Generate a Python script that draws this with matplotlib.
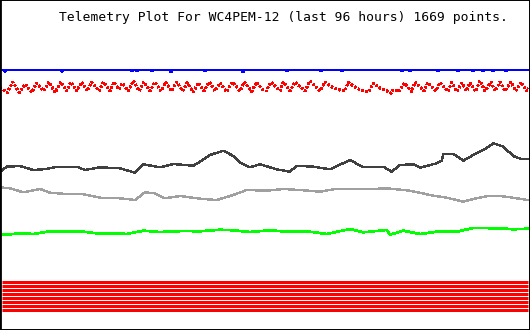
import numpy as np
import matplotlib
matplotlib.use('Agg')
import matplotlib.pyplot as plt

# Telemetry traces (x = sample column, y = screen row)
title = "Telemetry Plot For WC4PEM-12 (last 96 hours) 1669 points."

blue_x = [0, 4, 5, 6, 61, 62, 63, 131, 132, 133, 136, 137, 138, 151, 152, 153, 170, 171, 172,
          204, 205, 206, 242, 243, 244, 286, 287, 288, 320, 321, 322, 341, 342, 343, 401, 402, 403,
          409, 410, 411, 437, 438, 439, 457, 458, 459, 472, 473, 474, 482, 483, 484, 492, 493, 494,
          505, 506, 507, 528]
blue_y = [70, 70, 71.5, 70, 70, 71.5, 70, 70, 71, 70, 70, 71, 70, 70, 71, 70, 70, 72, 70,
          70, 71, 70, 70, 72, 70, 70, 71, 70, 70, 71, 70, 70, 71, 70, 70, 71, 70,
          70, 71, 70, 70, 71, 70, 70, 71, 70, 70, 71, 70, 70, 71, 70, 70, 71, 70,
          70, 71, 70, 70]

red_x = [0, 7.3, 12.7, 19.3, 25, 31.7, 36.7, 43.3, 49, 55, 61, 66.7, 71, 76.7, 81.7, 87.3, 91.7,
         99, 103.3, 110, 114, 119, 122.3, 128.3, 133.3, 139.3, 144, 150, 155, 161, 165.7, 171.7,
         176.7, 182.7, 187.3, 193.3, 198.3, 204, 209.3, 215, 220, 226.7, 232.3, 240, 244.3, 251.7,
         256.7, 263.3, 266, 271, 280, 283.3, 290, 295, 305, 310, 320, 325, 330, 335, 340, 345,
         348.3, 355, 360, 365, 368.3, 373.3, 380, 386, 391, 393, 396, 398, 405, 411.7, 415, 424.3,
         427.7, 435.7, 440, 447.7, 451.7, 456.7, 462, 466.7, 470, 475.7, 480, 485, 491, 495, 500,
         505, 511, 515.7, 521, 526.7, 528]
red_y = [87.7, 92.5, 82, 92.5, 84, 92.5, 83, 91, 82, 92.5, 82, 91, 82, 91, 82, 91, 82,
         91, 82, 91, 82, 89.3, 83.3, 91, 80.7, 91, 82, 91, 82, 91, 82, 91,
         82, 91, 82.7, 92, 82.7, 91, 82, 91, 82.7, 91.7, 82, 91, 82, 91.7,
         82, 91, 91, 82, 91, 82, 91, 82, 91, 81, 91, 82, 86, 88.5, 90, 91,
         82, 87, 89.7, 91, 92, 83.3, 88, 90.5, 93.3, 90, 90, 92, 83, 92, 82, 91,
         82.5, 91, 82.5, 91.5, 82.5, 91.5, 83, 91, 82.5, 91.5, 80.7, 91, 82, 91, 82,
         91, 82, 91, 82, 91, 88]

dark_x = [0, 6.7, 20, 33.3, 46.7, 56.7, 76.7, 85, 100, 120, 135, 143.3, 160, 173.3, 193.3, 200,
          210, 223.3, 233.3, 240, 250, 260, 276.7, 290, 296.7, 313.3, 330, 350, 363.3, 383.3,
          391.7, 400, 413.3, 420, 436.7, 441.7, 443.3, 453.3, 463.3, 473.3, 483.3, 493.3, 503.3,
          513.3, 521.7, 528]
dark_y = [171.7, 166.7, 166, 170, 169, 166.7, 166.7, 170, 167.3, 168.3, 172.7, 164.3, 167.3, 164,
          165.7, 161.7, 155, 150.7, 156, 162.7, 167.3, 164.3, 169.3, 171.7, 165.7, 166.7, 169.3,
          160, 167.3, 166.7, 171.7, 165, 164.3, 167.7, 163.3, 160.7, 154.3, 154, 160.7, 155, 150,
          143.3, 146.7, 156, 159.3, 159]

gray_x = [0, 10, 23.3, 40, 50, 66.7, 83.3, 100, 113.3, 126.7, 135, 145, 155, 165, 180, 200,
          216.7, 233.3, 246.7, 266.7, 283.3, 300, 320, 333.3, 366.7, 386.7, 410, 433.3, 446.7,
          463.3, 473.3, 490, 500, 510, 528]
gray_y = [187.3, 188.3, 192.3, 189, 192.7, 194, 194.3, 197.7, 197.7, 199, 200, 192.3, 193.3,
          198.3, 196, 198.7, 200, 195, 190, 190.7, 189, 190, 191.7, 189.3, 189.3, 188.3, 190.7,
          195.7, 197.7, 201.7, 199, 195.7, 196, 197.3, 200]

green_x = [0, 10, 20, 33.3, 50, 66.7, 83.3, 100, 116.7, 126.7, 143.3, 160, 183.3, 200, 220,
           233.3, 250, 270, 286.7, 306.7, 326.7, 350, 363.3, 386.7, 390, 403.3, 420, 436.7,
           456.7, 473.3, 500, 513.3, 528]
green_y = [235, 234.3, 233.3, 234, 231.3, 231.7, 231.7, 233.7, 233.3, 234, 230.7, 232, 231,
           231.3, 229.7, 230.3, 232, 230.3, 231.7, 231.3, 234, 229, 232.3, 230, 234.7, 230.7,
           234, 231.7, 231.7, 228, 228.3, 229.3, 228.7]

# eight digital channels, all constant
bit_levels = [281.5, 285.5, 289.5, 293.5, 297.5, 301.5, 305.5, 309.5]
bit_x = [2, 528]

fig = plt.figure(figsize=(5.3, 3.3), dpi=100)
ax = fig.add_axes([0, 0, 1, 1])
ax.set_xlim(0, 530)
ax.set_ylim(330, 0)
ax.set_xticks([])
ax.set_yticks([])
for side, sp in ax.spines.items():
  sp.set_linewidth(2.0 if side == 'left' else 1.4)
  sp.set_color('black')

lw = 1.0  # ~1.5-2 px
ax.plot(blue_x, blue_y, color='#0000ff', lw=1.44, antialiased=False)
ax.plot(red_x, red_y, color='#ff0000', lw=1.2, dashes=(1.2, 1.4), antialiased=False)
ax.plot(dark_x, dark_y, color='#404040', lw=lw, antialiased=False)
ax.plot(gray_x, gray_y, color='#a0a0a0', lw=lw, antialiased=False)
ax.plot(green_x, green_y, color='#00ff00', lw=1.2, antialiased=False)
for lev in bit_levels:
  ax.plot(bit_x, [lev, lev], color='#ff0000', lw=2.16, solid_capstyle='butt', antialiased=True)

ax.text(59, 21.5, title, family='DejaVu Sans Mono', fontsize=9.4, color='black',
        ha='left', va='baseline')

fig.savefig('out.png', dpi=100)
